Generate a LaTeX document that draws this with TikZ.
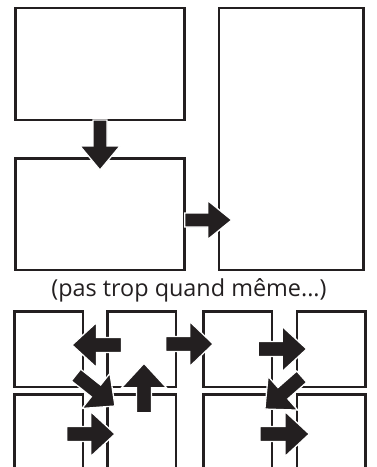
\documentclass[tikz,border=0pt]{standalone}
\usepackage{fontspec}
\setmainfont{Open Sans}
\definecolor{ink}{HTML}{231F20}
\tikzset{
  x=1pt, y=-1pt,
  panel/.style={draw=ink, line width=2.6pt, fill=none, inner sep=0pt, outer sep=0pt},
  bigpanel/.style={panel, minimum width=169.4pt},
  smallpanel/.style={panel, minimum width=68.4pt, minimum height=75.3pt},
  arrowbody/.style={fill=ink, draw=white, line width=1.3pt, line join=miter},
  % block arrow: shaft length, shaft half width, head half width, head length
  pics/blockarrow/.style n args={4}{code={
    \filldraw[arrowbody] (0,-#2) -- (#1,-#2) -- (#1,-#3) -- ({#1+#4},0)
      -- (#1,#3) -- (#1,#2) -- (0,#2) -- cycle;
  }},
}
\begin{document}
\begin{tikzpicture}
\useasboundingbox (0,0) rectangle (376,467);
\clip (0,0) rectangle (376,467);

% upper layout
\node[bigpanel, minimum height=112pt] (boxA) at (100,64) {};
\node[bigpanel, minimum height=111.7pt] (boxB) at (100,214.2) {};
\node[panel, minimum width=144.3pt, minimum height=262pt] (boxC) at (291.2,139) {};

\pic[rotate=-90] at (boxA.south) {blockarrow={26}{7}{20}{24}};
\pic at (boxB.east |- 0,220) {blockarrow={23}{7}{19.5}{24}};

\node[font=\fontsize{23.4}{28}\selectfont, text=ink, anchor=base] (caption)
  at (189,296.7) {(pas trop quand même...)};

% lower grid of panels
\node[smallpanel] (p11) at (48.85,349.35) {};
\node[smallpanel] (p12) at (141.65,349.35) {};
\node[smallpanel] (p13) at (237.6,349.35) {};
\node[smallpanel] (p14) at (331,349.35) {};
\node[smallpanel] (p21) at (48.85,432.35) {};
\node[smallpanel] (p22) at (141.65,432.35) {};
\node[smallpanel] (p23) at (237.6,432.35) {};
\node[smallpanel] (p24) at (331,432.35) {};

% arrows between the panels
\pic[rotate=180] at (121.5,345) {blockarrow={25}{7.5}{22.5}{24.5}};
\pic at (165.7,344) {blockarrow={24}{7.5}{22.5}{23.5}};
\pic at (258.3,349) {blockarrow={24}{7.5}{22.5}{24.4}};
\pic[rotate=90] at (144,412.7) {blockarrow={25}{7.5}{22.5}{24.4}};
\pic[rotate=-38.5] at (76,375) {blockarrow={25.5}{7.5}{22.5}{24.3}};
\pic[rotate=-138.7] at (301.7,376.7) {blockarrow={25}{7.5}{22.5}{24}};
\pic at (66.7,434) {blockarrow={24}{7.5}{22.5}{24.3}};
\pic at (260,434) {blockarrow={25}{7.5}{22.5}{24.3}};
\end{tikzpicture}
\end{document}
